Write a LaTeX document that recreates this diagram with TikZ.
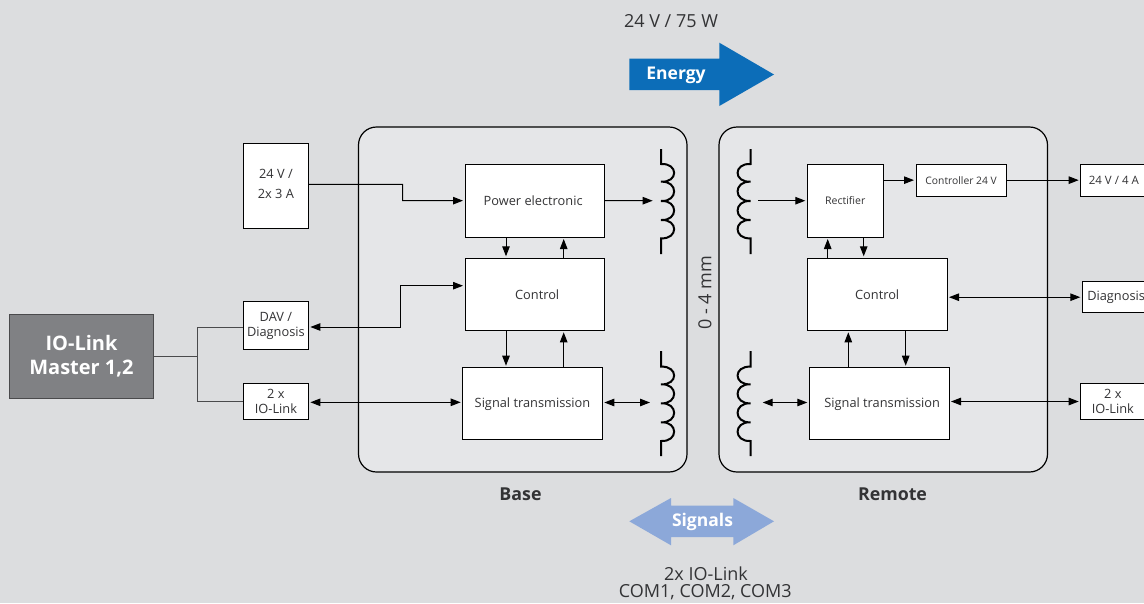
\documentclass[tikz,border=0pt]{standalone}
\usepackage{fontspec}
\setmainfont{Open Sans}
\usetikzlibrary{arrows.meta}
\definecolor{pagebg}{HTML}{DCDDDF}
\definecolor{panelbg}{HTML}{E5E6E8}
\definecolor{masterfill}{HTML}{808184}
\definecolor{masterline}{HTML}{4A4A4C}
\definecolor{energyblue}{HTML}{0C6DB8}
\definecolor{signalblue}{HTML}{8CA8D9}
\definecolor{ink}{HTML}{333335}
\newcommand{\fsz}[1]{\fontsize{#1pt}{1.25\dimexpr#1pt\relax}\selectfont}
\newcommand{\boxn}[6][]{%
  \pgfmathsetmacro{\bw}{#4-#2}\pgfmathsetmacro{\bh}{#5-#3}%
  \pgfmathsetmacro{\bx}{(#2+#4)/2}\pgfmathsetmacro{\by}{(#3+#5)/2}%
  \node[blockbox,minimum width=\bw pt,minimum height=\bh pt,#1] at (\bx,\by) {#6};}
% coil: x of the straight part, bulge direction, y top, five notch heights, y bottom
\newcommand{\coil}[9]{%
  \draw[coilline] (#1,#3) -- (#1,#4)
    .. controls (#1+#2*17.5,#4-1) and (#1+#2*17.5,#5+1) .. (#1,#5)
    .. controls (#1+#2*17.5,#5-1) and (#1+#2*17.5,#6+1) .. (#1,#6)
    .. controls (#1+#2*17.5,#6-1) and (#1+#2*17.5,#7+1) .. (#1,#7)
    .. controls (#1+#2*17.5,#7-1) and (#1+#2*17.5,#8+1) .. (#1,#8)
    -- (#1,#9);}
\tikzset{
  blockbox/.style={draw=black,fill=white,line width=1pt,inner sep=0pt,text=ink,align=center,font=\fsz{12.8}},
  panel/.style={draw=black,fill=panelbg,line width=1.2pt,rounded corners=18pt},
  coilline/.style={draw=black,line width=2pt},
  conn/.style={draw=black,line width=1pt},
  arr/.style={conn,-{Triangle[length=10pt,width=7.5pt]},shorten >=1.5pt},
  arrboth/.style={conn,{Triangle[length=10pt,width=7.5pt]}-{Triangle[length=10pt,width=7.5pt]},shorten >=1.5pt,shorten <=1.5pt},
  txt/.style={inner sep=0pt,text=ink,align=center},
  head/.style={txt,font=\fsz{17.8}\bfseries},
  bigarrow/.style={draw=none},
}
\begin{document}
\begin{tikzpicture}[x=1pt,y=-1pt]
\useasboundingbox (0,0) rectangle (1144,603);
\clip (0,0) rectangle (1144,603);
\fill[pagebg] (0,0) rectangle (1144,603);

% panels
\draw[panel] (358.5,127) rectangle (687,472);
\draw[panel] (719,127) rectangle (1047.5,472);

% big arrows
\fill[energyblue,bigarrow] (629.3,58.7) -- (719.3,58.7) -- (719.3,42.7) -- (774,74.5) -- (719.3,106) -- (719.3,90) -- (629.3,90) -- cycle;
\fill[signalblue,bigarrow] (629.3,521.3) -- (671,498) -- (671,505.7) -- (733.3,505.7) -- (733.3,498) -- (774,521.3) -- (733.3,545.3) -- (733.3,537) -- (671,537) -- (671,545.3) -- cycle;

% coils
\coil{661}{1}{149}{164}{181.7}{201}{220}{238.3}{254}
\coil{661}{1}{351}{366.7}{384.3}{403.3}{422.3}{441}{456}
\coil{750.7}{-1}{149}{164}{181.7}{201}{220}{238.3}{254}
\coil{750.7}{-1}{351}{366.7}{384.3}{403.3}{422.3}{441}{456}

% blocks
\boxn[name=master,fill=masterfill,draw=masterline,text=white,font=\fsz{20}\bfseries]{9.7}{314}{153.3}{398}{IO-Link\\[-1pt]Master 1,2}
\boxn[name=supply]{243.4}{143.4}{308.4}{228.7}{24 V /\\[4pt]2x 3 A\\[-12pt]~}
\boxn[name=dav]{243.4}{301.7}{308.4}{349.3}{DAV /\\[-1pt]Diagnosis}
\boxn[name=ioL]{243.4}{383.3}{308.4}{419.7}{2 x\\[-1pt]IO-Link}
\boxn[name=powerL]{465}{164.3}{604.3}{237}{Power electronic\kern3pt}
\boxn[name=ctrlL]{465}{258.3}{604.3}{330.3}{\kern5pt Control}
\boxn[name=sigL]{462.7}{367.7}{602.3}{439.7}{Signal transmission}
\boxn[name=rect,font=\fsz{10.5}]{807.3}{164.3}{883.3}{237}{Rectifier}
\boxn[name=ctrl24,font=\fsz{10.3}]{916}{164.3}{1006.3}{196}{Controller 24 V}
\boxn[name=ctrlR]{807.3}{258.3}{947}{330.3}{Control}
\boxn[name=sigR]{809.3}{367.7}{949}{439.7}{\kern6pt Signal transmission}
\boxn[name=vout,font=\fsz{11.5}]{1080.7}{164.3}{1150}{196}{24 V / 4 A\kern3pt}
\boxn[name=diagR]{1082.3}{281.7}{1150}{312.7}{Diagnosis}
\boxn[name=ioR]{1080.7}{383.3}{1150}{419.7}{2 x\kern5pt\\[-1pt]IO-Link\kern5pt}

% connector helpers
\coordinate (j1) at (402.7,184.3);
\coordinate (j2) at (400.3,285.7);
\coordinate (j3) at (197.7,356);
\coordinate (xa) at (506,0);
\coordinate (xb) at (563.7,0);
\coordinate (xc) at (827.7,0);
\coordinate (xd) at (863.7,0);
\coordinate (xe) at (848.3,0);
\coordinate (xf) at (905.7,0);
\coordinate (coilL1) at (652.7,200.7);
\coordinate (coilL2) at (650,402.5);
\coordinate (coilR1) at (758,200.7);
\coordinate (coilR2) at (762.7,402.5);

% connectors: left side
\draw[conn,masterline] (master.east |- j3) -- (j3);
\draw[conn,masterline] ([yshift=-1.5pt]dav.west) -| (j3) |- ([yshift=.2pt]ioL.west);
\draw[arr] ([yshift=1.7pt]supply.east) -- (j1) |- (powerL.west);
\draw[arrboth] ([yshift=-1.5pt]dav.east) -| (j2) -- ([yshift=8.6pt]ctrlL.west);
\draw[arrboth] ([yshift=-.8pt]ioL.east) -- ([yshift=1.4pt]sigL.west);

% connectors: base
\draw[arr] (powerL.south -| xa) -- (ctrlL.north -| xa);
\draw[arr] (ctrlL.north -| xb) -- (powerL.south -| xb);
\draw[arr] (ctrlL.south -| xa) -- (sigL.north -| xa);
\draw[arr] (sigL.north -| xb) -- (ctrlL.south -| xb);
\draw[arr,shorten >=0pt] (powerL.east) -- (coilL1);
\draw[arrboth,shorten >=0pt] (sigL.east |- coilL2) -- (coilL2);

% connectors: remote
\draw[arr] (coilR1) -- (rect.west |- coilR1);
\draw[arrboth,shorten <=0pt] (coilR2) -- (sigR.west |- coilR2);
\draw[arr] (rect.east |- ctrl24.west) -- (ctrl24.west);
\draw[arr] (ctrl24.east) -- (vout.west);
\draw[arr] (ctrlR.north -| xc) -- (rect.south -| xc);
\draw[arr] (rect.south -| xd) -- (ctrlR.north -| xd);
\draw[arr] (sigR.north -| xe) -- (ctrlR.south -| xe);
\draw[arr] (ctrlR.south -| xf) -- (sigR.north -| xf);
\draw[arrboth] (ctrlR.east |- diagR.west) -- (diagR.west);
\draw[arrboth] (sigR.east |- ioR.west) -- (ioR.west);

% free labels
\node[txt,font=\fsz{18}] (power) at (671,21) {24 V / 75 W};
\node[inner sep=0pt,text=white,font=\fsz{17.5}\bfseries] (energy) at (676,75) {Energy};
\node[inner sep=0pt,text=white,font=\fsz{17.5}\bfseries] (signals) at (702.5,522) {Signals};
\node[txt,font=\fsz{18},rotate=90] (gap) at (705,293) {0 - 4 mm};
\node[head] (base) at (520.5,494) {Base};
\node[head] (remote) at (892.5,494) {Remote};
\node[txt,font=\fsz{18}] (com1) at (706,574) {2x IO-Link};
\node[txt,font=\fsz{18}] (com2) at (705.3,592) {COM1, COM2, COM3};
\end{tikzpicture}
\end{document}
